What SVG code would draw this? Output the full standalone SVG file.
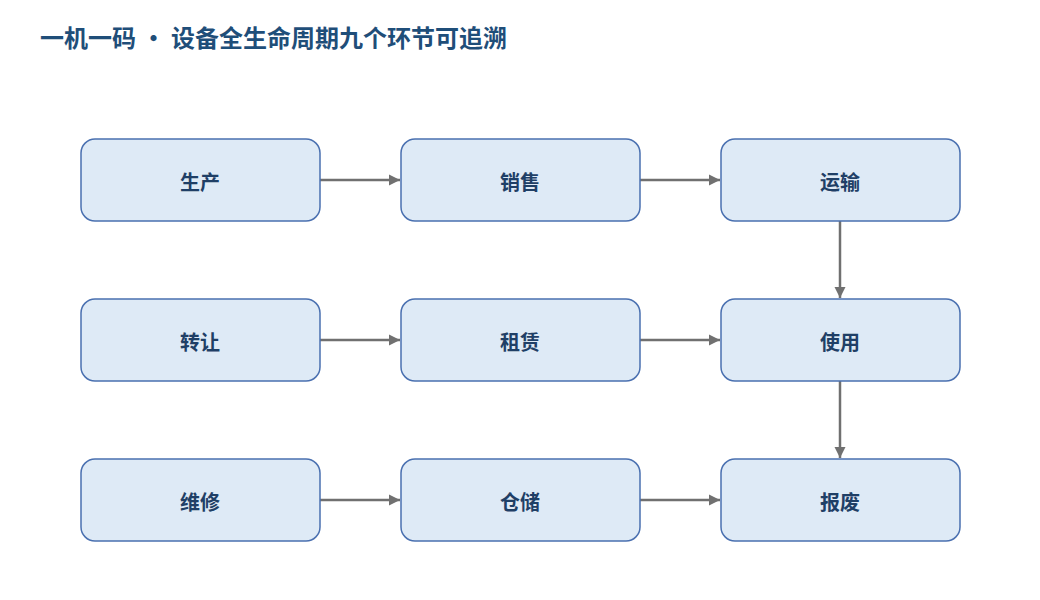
<svg xmlns="http://www.w3.org/2000/svg" width="1040" height="600" viewBox="0 0 1040 600">
<style>
.box{fill:#deeaf6;stroke:#4a70b0;stroke-width:1.5}
.lbl{font-family:"Noto Sans CJK SC","Noto Sans",sans-serif;font-weight:bold;font-size:20px;fill:#1f3f66;text-anchor:middle;dominant-baseline:central}
.title{font-family:"Noto Sans CJK SC","Noto Sans",sans-serif;font-weight:bold;font-size:24px;fill:#1f4e79}
.c{stroke:#707070;stroke-width:2.5;fill:none;marker-end:url(#a)}
</style>
<defs><marker id="a" viewBox="0 0 10 10" refX="10" refY="5" markerWidth="4.5" markerHeight="4.5" orient="auto" markerUnits="strokeWidth"><path d="M0,0 L10,5 L0,10 z" fill="#707070"/></marker></defs>
<rect width="1040" height="600" fill="#fff"/>
<text class="title" x="40" y="47">一机一码 · 设备全生命周期九个环节可追溯</text>
<g id="connectors">
<line class="c" x1="320" y1="180" x2="400" y2="180"/>
<line class="c" x1="640" y1="180" x2="720" y2="180"/>
<line class="c" x1="840" y1="221" x2="840" y2="298"/>
<line class="c" x1="320" y1="340" x2="400" y2="340"/>
<line class="c" x1="640" y1="340" x2="720" y2="340"/>
<line class="c" x1="840" y1="381" x2="840" y2="458"/>
<line class="c" x1="320" y1="500" x2="400" y2="500"/>
<line class="c" x1="640" y1="500" x2="720" y2="500"/>
</g>
<g id="n1"><rect class="box" x="81" y="139" width="239" height="82" rx="14"/><text class="lbl" x="200" y="181">生产</text></g>
<g id="n2"><rect class="box" x="401" y="139" width="239" height="82" rx="14"/><text class="lbl" x="520" y="181">销售</text></g>
<g id="n3"><rect class="box" x="721" y="139" width="239" height="82" rx="14"/><text class="lbl" x="840" y="181">运输</text></g>
<g id="n4"><rect class="box" x="81" y="299" width="239" height="82" rx="14"/><text class="lbl" x="200" y="341">转让</text></g>
<g id="n5"><rect class="box" x="401" y="299" width="239" height="82" rx="14"/><text class="lbl" x="520" y="341">租赁</text></g>
<g id="n6"><rect class="box" x="721" y="299" width="239" height="82" rx="14"/><text class="lbl" x="840" y="341">使用</text></g>
<g id="n7"><rect class="box" x="81" y="459" width="239" height="82" rx="14"/><text class="lbl" x="200" y="501">维修</text></g>
<g id="n8"><rect class="box" x="401" y="459" width="239" height="82" rx="14"/><text class="lbl" x="520" y="501">仓储</text></g>
<g id="n9"><rect class="box" x="721" y="459" width="239" height="82" rx="14"/><text class="lbl" x="840" y="501">报废</text></g>
</svg>
